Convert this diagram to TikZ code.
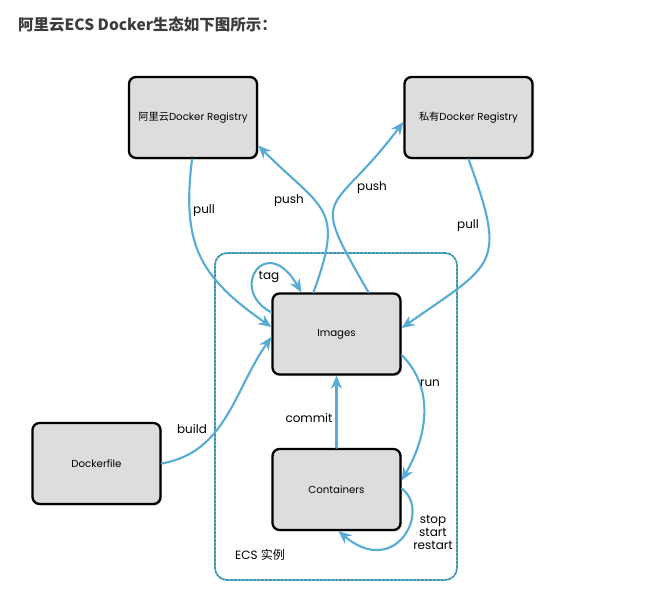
\documentclass[tikz,border=0pt]{standalone}
\usepackage{fontspec}
\setmainfont{Poppins}
\newfontfamily\cjk{Noto Sans CJK SC}
\usetikzlibrary{arrows.meta,shadows,positioning}

\begin{document}
\begin{tikzpicture}
  [x=1pt,y=1pt,line cap=round,
  % Styles
  box/.style={draw=black,line width=2.3pt,fill=boxfill,rounded corners=7pt,
    minimum width=128pt,minimum height=81pt,inner sep=0pt,
    font=\fontsize{10.2}{11}\selectfont,
    drop shadow={shadow xshift=1.5pt,shadow yshift=-1.5pt,opacity=0.3}},
  flow/.style={draw=flowcolor,line width=2.1pt,-{Stealth[length=13pt,width=11pt]}},
  flow label/.style={font=\fontsize{12}{13}\selectfont,inner sep=0pt},
  ecs frame/.style={draw=framecolor,line width=1.8pt,dash pattern=on 2.6pt off 1.3pt,
    rounded corners=12pt,minimum width=242pt,minimum height=327pt}]
  % Colors
  \definecolor{flowcolor}{RGB}{86,172,212}
  \definecolor{framecolor}{RGB}{58,150,178}
  \definecolor{boxfill}{RGB}{221,221,221}
  \definecolor{titlecolor}{RGB}{60,60,60}
  \useasboundingbox (0,0) rectangle (660,-603);
  % Title
  \node[anchor=west,inner sep=0pt,text=titlecolor,
    font=\cjk\bfseries\fontsize{15.5}{17}\selectfont] (title) at (18,-25)
    {阿里云ECS Docker生态如下图所示：};
  % The ECS instance
  \node[ecs frame] (ecs) at (336,-416.5) {};
  \node[flow label,anchor=west] (ecs label) at (235,-555) {ECS {\cjk 实例}};
  % The boxes
  \node[box] (aliyun) at (193,-117.5) {{\cjk 阿里云}Docker Registry};
  \node[box] (private) at (468.5,-117.5) {{\cjk 私有}Docker Registry};
  \node[box] (images) at (336.5,-334) {Images};
  \node[box] (containers) at (336.5,-489.5) {Containers};
  \node[box] (dockerfile) at (96.5,-463.5) {Dockerfile};
  % The flows
  \draw[flow] ([xshift=-1pt]aliyun.south) to[out=-97,in=145,looseness=1.2]
    ([yshift=7pt]images.west);
  \draw[flow] ([xshift=-23pt]images.north) to[out=70,in=-45,looseness=1.5]
    ([yshift=-28pt]aliyun.east);
  \draw[flow] ([xshift=32pt]images.north) to[out=120,in=-127,looseness=1.8]
    ([yshift=-4.5pt]private.west);
  \draw[flow] (private.south) to[out=-70,in=35,looseness=1.6]
    ([yshift=6pt]images.east);
  \draw[flow] ([yshift=-20pt]images.north west) .. controls +(-44,23) and +(-35,61)
    .. ([xshift=30pt]images.north west);
  \draw[flow] (dockerfile.east) to[out=10,in=-125] ([yshift=-3pt]images.west);
  \draw[flow] (containers.north) -- (images.south);
  \draw[flow] ([yshift=-21pt]images.east) to[out=-45,in=60]
    ([yshift=9pt]containers.east);
  \draw[flow] ([yshift=1pt]containers.east) .. controls +(30,-22) and +(57,-48)
    .. ([xshift=2pt]containers.south);
  % Labels
  \node[flow label] (pull aliyun) at (204,-211) {pull};
  \node[flow label] (push aliyun) at (289,-201) {push};
  \node[flow label] (push private) at (372,-188) {push};
  \node[flow label] (pull private) at (468,-226) {pull};
  \node[flow label] (tag) at (269,-277) {tag};
  \node[flow label] (build) at (192,-429) {build};
  \node[flow label] (commit) at (309,-418) {commit};
  \node[flow label] (run) at (430,-383) {run};
  \node[flow label,align=center] (lifecycle) at (433,-532) {stop\\start\\restart};
\end{tikzpicture}
\end{document}
